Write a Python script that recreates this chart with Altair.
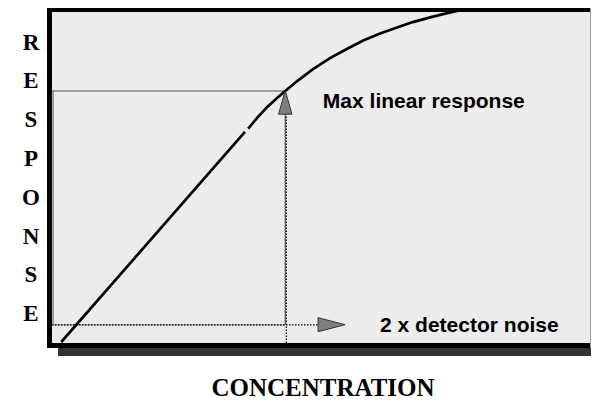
import altair as alt
import pandas as pd

# ---------------- data ----------------
# response curve (concentration %, response %), two pieces with a small gap
curve_segment = [1, 1] + [2] * 16
curve_conc = [1.7, 35.4,
              36.0, 37.8, 39.6, 41.3, 42.8, 45.1, 47.9, 51.0, 54.1, 57.1,
              60.2, 63.3, 66.2, 69.4, 72.3, 75.2]
curve_resp = [0.3, 62.8,
              63.8, 67.3, 70.4, 72.9, 75.0, 78.1, 81.5, 84.8, 87.5, 90.0,
              92.1, 93.9, 95.5, 96.9, 98.1, 99.1]

max_linear_conc = 42.8
max_linear_resp = 75.0
noise_resp = 5.4
noise_line_end = 48.8
dotted_conc = 43.0
rect_left_conc = 0.2

arrow_up_conc = [42.8]
arrow_up_resp = [71.6]
arrow_right_conc = [51.3]
arrow_right_resp = [5.45]

label_text = ["Max linear response", "2 x detector noise"]
label_conc = [49.7, 60.2]
label_resp = [70.0, 3.4]

x_title = "CONCENTRATION"
y_title_letters = ["R", "E", "S", "P", "O", "N", "S", "E"]

# ---------------- chart ----------------
W, H = 538, 331
xs = alt.Scale(domain=[0, W / 5.45])
ys = alt.Scale(domain=[0, 98.5])
one = pd.DataFrame({"d": [0]})


def box(x, x2, y, y2, color):
    return alt.Chart(one).mark_rect(color=color).encode(
        x=alt.value(x), x2=alt.value(x2), y=alt.value(y), y2=alt.value(y2))


shadow = box(6, W + 1, H + 5, H + 13, "#333333")
frame_top = box(-5, W, -4, 0, "black")
frame_left = box(-5, 0, -4, H + 5, "black")
frame_bottom = box(-5, W, H, H + 5, "black")
frame_right = box(W, W + 1, -4, H + 5, "#9a9a9a")

solid_df = pd.DataFrame({
    "x": [0, rect_left_conc, max_linear_conc, 0],
    "x2": [max_linear_conc, rect_left_conc, max_linear_conc, max_linear_conc],
    "y": [max_linear_resp, noise_resp, noise_resp, noise_resp],
    "y2": [max_linear_resp, max_linear_resp, max_linear_resp, noise_resp],
    "c": ["a", "b", "c", "d"],
})
solid = alt.Chart(solid_df).mark_rule(strokeWidth=1.1).encode(
    x=alt.X("x:Q", scale=xs, axis=None), x2="x2:Q",
    y=alt.Y("y:Q", scale=ys, axis=None), y2="y2:Q",
    color=alt.Color("c:N", scale=alt.Scale(domain=["a", "b", "c", "d"],
                    range=["#555555", "#666666", "#444444", "#9a9a9a"]), legend=None),
)

dotted_df = pd.DataFrame({
    "x": [dotted_conc, 0],
    "x2": [dotted_conc, noise_line_end],
    "y": [0, noise_resp],
    "y2": [max_linear_resp - 7, noise_resp],
})
dotted = alt.Chart(dotted_df).mark_rule(color="black", strokeWidth=1.2,
                                         strokeDash=[1.5, 1.5]).encode(
    x=alt.X("x:Q", scale=xs, axis=None), x2="x2:Q",
    y=alt.Y("y:Q", scale=ys, axis=None), y2="y2:Q",
)

curve_df = pd.DataFrame({"segment": curve_segment, "conc": curve_conc, "resp": curve_resp})
curve = alt.Chart(curve_df).mark_line(color="black", strokeWidth=2.7).encode(
    x=alt.X("conc:Q", scale=xs, axis=None),
    y=alt.Y("resp:Q", scale=ys, axis=None),
    detail="segment:N",
    order="conc:Q",
)

up_df = pd.DataFrame({"conc": arrow_up_conc, "resp": arrow_up_resp})
arrow_up = alt.Chart(up_df).mark_point(
    shape="M0,-1L0.57,1L-0.57,1Z", size=557, filled=True, opacity=1,
    fill="#7f7f7f", stroke="#333333", strokeWidth=1).encode(
    x=alt.X("conc:Q", scale=xs, axis=None),
    y=alt.Y("resp:Q", scale=ys, axis=None),
)
right_df = pd.DataFrame({"conc": arrow_right_conc, "resp": arrow_right_resp})
arrow_right = alt.Chart(right_df).mark_point(
    shape="M1,0L-1,0.52L-1,-0.52Z", size=729, filled=True, opacity=1,
    fill="#7f7f7f", stroke="#333333", strokeWidth=1).encode(
    x=alt.X("conc:Q", scale=xs, axis=None),
    y=alt.Y("resp:Q", scale=ys, axis=None),
)

label_df = pd.DataFrame({"t": label_text, "conc": label_conc, "resp": label_resp})
labels = alt.Chart(label_df).mark_text(
    align="left", baseline="alphabetic", font="Liberation Sans",
    fontWeight="bold", fontSize=21, color="black").encode(
    x=alt.X("conc:Q", scale=xs, axis=None),
    y=alt.Y("resp:Q", scale=ys, axis=None),
    text="t:N",
)

y_title = alt.Chart(one).mark_text(
    align="center", baseline="alphabetic", font="Liberation Serif",
    fontWeight="bold", fontSize=23, color="black",
    lineBreak="\n", lineHeight=38.8).encode(
    x=alt.value(-21), y=alt.value(37.5),
    text=alt.value("\n".join(y_title_letters)),
)

x_title_mark = alt.Chart(one).mark_text(
    align="center", baseline="alphabetic", font="Liberation Serif",
    fontWeight="bold", fontSize=25, color="black").encode(
    x=alt.value(271), y=alt.value(384),
    text=alt.value(x_title),
)

chart = alt.layer(
    shadow, solid, dotted, frame_top, curve, frame_left, frame_bottom, frame_right,
    arrow_up, arrow_right, labels, y_title, x_title_mark,
).properties(
    width=W, height=H, autosize="none",
    padding={"left": 44, "top": 4, "right": 1, "bottom": 60},
    background="white",
).configure_view(fill="#ececec", stroke="transparent", strokeWidth=0)

chart.save("out.html", embed_options={"renderer": "svg", "actions": False})
